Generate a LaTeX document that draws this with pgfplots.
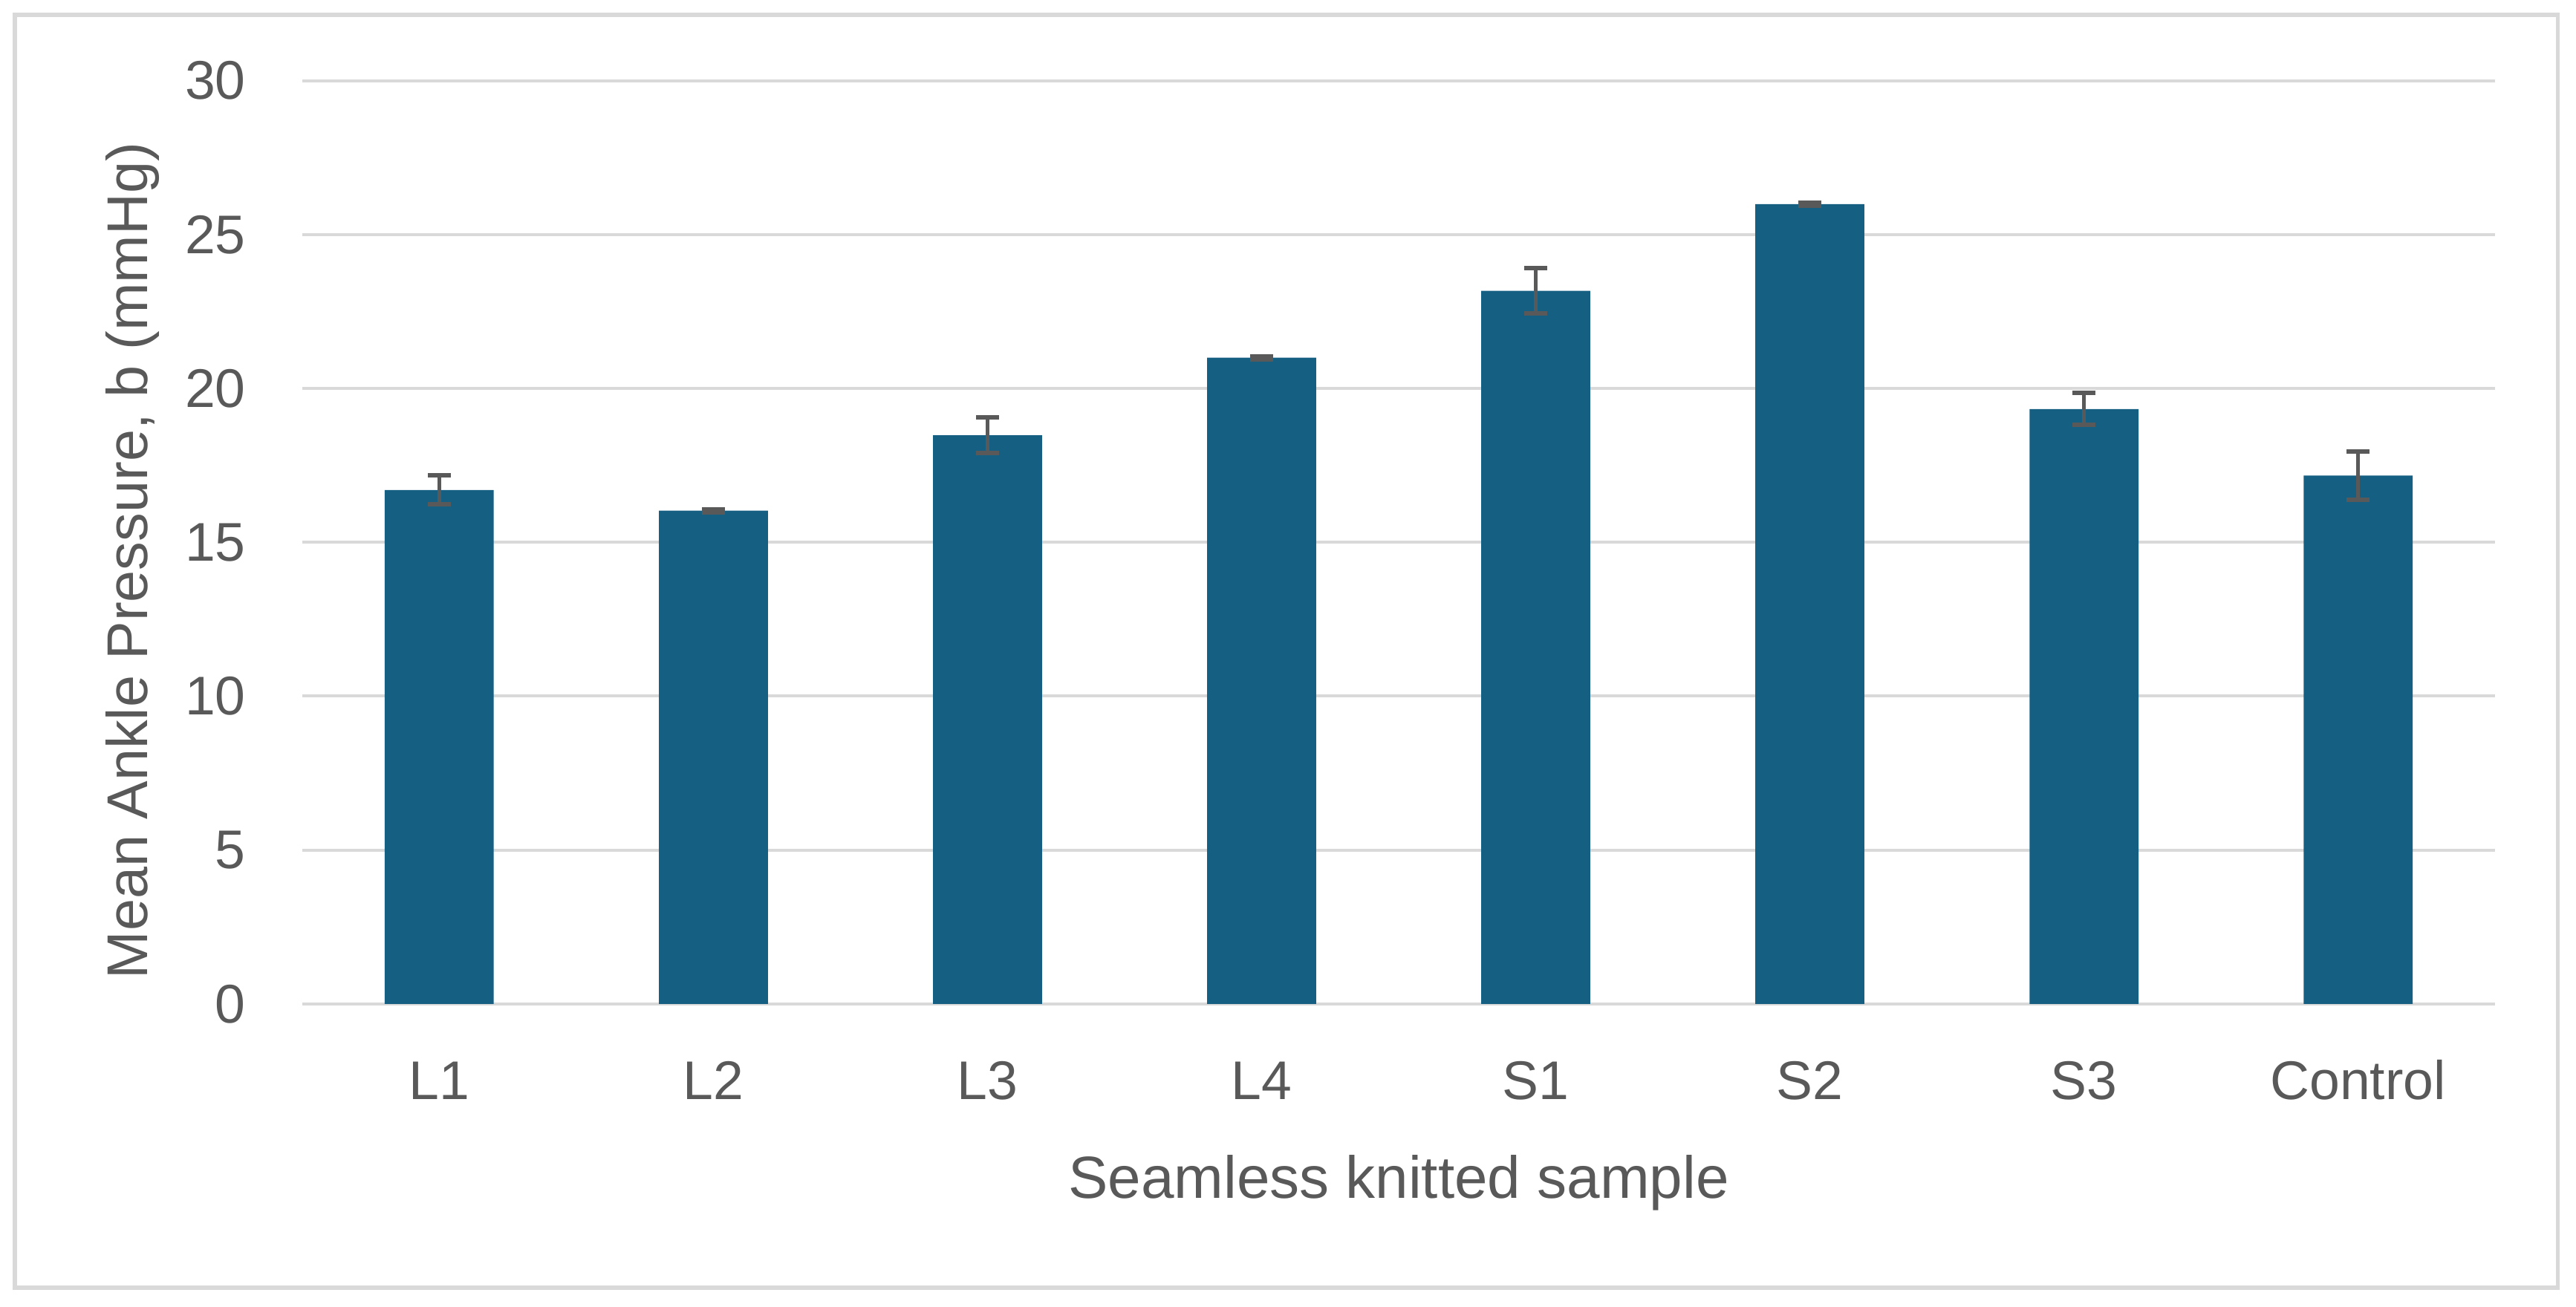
\documentclass[border=0pt]{standalone}
\usepackage{fontspec}
\setmainfont{Liberation Sans}
\usepackage{pgfplots}
\pgfplotsset{compat=1.18}
\definecolor{barblue}{HTML}{156082}
\definecolor{txtgray}{HTML}{595959}
\definecolor{gridgray}{HTML}{D9D9D9}
\begin{document}
\begin{tikzpicture}
\useasboundingbox (-61pt,-61.2pt) rectangle (459pt,202.7pt);
\draw[gridgray, line width=0.8pt] (-58pt,-57.3pt) rectangle (455.3pt,199.7pt);
\begin{axis}[
  at={(0,0)}, anchor=south west,
  width=442.7pt, height=186.4pt, scale only axis,
  ymin=0, ymax=30, ytick={0,5,...,30},
  xmin=-0.5, xmax=7.5,
  xtick={0,...,7},
  xticklabels={L1,L2,L3,L4,S1,S2,S3,Control},
  axis line style={draw=none},
  major tick length=0pt,
  ymajorgrids, grid style={gridgray, line width=0.6pt},
  /pgf/number format/assume math mode=true,
  tick label style={font=\fontsize{11}{13}\selectfont, text=txtgray},
  yticklabel style={anchor=east, inner sep=0pt, xshift=-11.2pt},
  xticklabel style={anchor=base, inner sep=0pt, yshift=-19.3pt},
  xlabel={Seamless knitted sample},
  ylabel={Mean Ankle Pressure, b (mmHg)},
  label style={text=txtgray},
  xlabel style={font=\fontsize{12}{14}\selectfont, at={(axis description cs:0.5,0)}, anchor=base, inner sep=0pt, yshift=-39.3pt},
  ylabel style={font=\fontsize{11.6}{14}\selectfont, at={(axis description cs:-0.0705,0.48)}, anchor=base, inner sep=0pt},
  clip=false,
]
\addplot[ybar, bar width=22pt, fill=barblue, draw=none,
  error bars/.cd, y dir=both, y explicit,
  error bar style={txtgray, line width=0.7pt},
  error mark options={rotate=90, mark size=2.3pt, line width=0.9pt, txtgray}]
coordinates {
  (0,16.7) +- (0,0.47)
  (1,16.03) +- (0,0.05)
  (2,18.48) +- (0,0.58)
  (3,21.0) +- (0,0.05)
  (4,23.17) +- (0,0.74)
  (5,25.99) +- (0,0.05)
  (6,19.33) +- (0,0.52)
  (7,17.17) +- (0,0.78)
};
\end{axis}
\end{tikzpicture}
\end{document}
